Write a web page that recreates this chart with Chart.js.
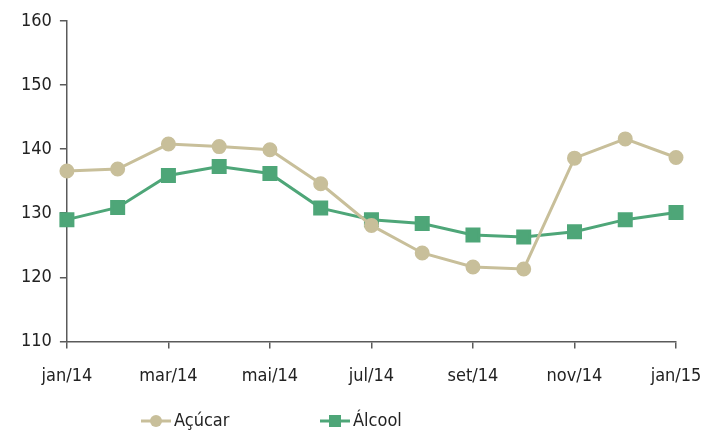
<!DOCTYPE html>
<html>
<head>
<meta charset="utf-8">
<script src="https://cdn.jsdelivr.net/npm/chart.js@4/dist/chart.umd.min.js"></script>
<style>
  html, body { margin: 0; padding: 0; background: #fff; }
  #wrap { width: 702px; height: 434px; }
</style>
</head>
<body>
<div id="wrap"><canvas id="myChart" width="702" height="434"></canvas></div>
<script>
const months = ['jan/14', 'fev/14', 'mar/14', 'abr/14', 'mai/14', 'jun/14', 'jul/14',
  'ago/14', 'set/14', 'out/14', 'nov/14', 'dez/14', 'jan/15'];
const acucar = [136.6, 136.9, 140.8, 140.4, 139.9, 134.6, 128.1, 123.8, 121.6, 121.3, 138.6, 141.6, 138.7];
const alcool = [129.0, 130.9, 135.9, 137.3, 136.2, 130.8, 129.0, 128.4, 126.6, 126.3, 127.1, 129.0, 130.1];
const yTicks = [110, 120, 130, 140, 150, 160];

const fontFam = "'DejaVu Sans Condensed', 'Liberation Sans Narrow', sans-serif";
const tan = '#c8bf9a';
const green = '#4ea678';
const axisColor = '#5a5a5a';

// legend drawn by hand so the spacing matches
const legendPlugin = {
  id: 'myLegend',
  afterDraw(chart) {
    const ctx = chart.ctx;
    const items = [
      { label: 'Açúcar', color: tan, style: 'circle', x: 141 },
      { label: 'Álcool', color: green, style: 'rect', x: 320 },
    ];
    const y = 421;
    ctx.save();
    items.forEach(it => {
      ctx.strokeStyle = it.color;
      ctx.lineWidth = 3;
      ctx.beginPath();
      ctx.moveTo(it.x, y);
      ctx.lineTo(it.x + 30, y);
      ctx.stroke();
      ctx.fillStyle = it.color;
      if (it.style === 'circle') {
        ctx.beginPath();
        ctx.arc(it.x + 15, y, 6, 0, Math.PI * 2);
        ctx.fill();
      } else {
        ctx.fillRect(it.x + 9, y - 6, 12, 12);
      }
      ctx.fillStyle = '#222';
      ctx.font = '18px ' + fontFam;
      ctx.textBaseline = 'middle';
      ctx.fillText(it.label, it.x + 33, y);
    });
    ctx.restore();
  }
};

const ctx = document.getElementById('myChart');

new Chart(ctx, {
  type: 'line',
  data: {
    labels: months,
    datasets: [
      {
        label: 'Açúcar',
        data: acucar,
        borderColor: tan,
        backgroundColor: tan,
        borderWidth: 3,
        pointStyle: 'circle',
        pointRadius: 6,
        pointHoverRadius: 6,
        tension: 0,
      },
      {
        label: 'Álcool',
        data: alcool,
        borderColor: green,
        backgroundColor: green,
        borderWidth: 3,
        pointStyle: 'rect',
        pointRadius: 8.5,
        pointHoverRadius: 8.5,
        tension: 0,
      },
    ],
  },
  options: {
    responsive: false,
    animation: false,
    layout: { padding: { left: 13, right: 0, top: 21, bottom: 30 } },
    plugins: {
      legend: { display: false },
      tooltip: { enabled: false },
    },
    scales: {
      x: {
        offset: false,
        afterFit: s => { s.paddingRight = 26; },
        border: { color: axisColor, width: 1.5 },
        grid: {
          drawOnChartArea: false,
          drawTicks: true,
          tickLength: 7,
          color: c => (c.index % 2 === 0 ? axisColor : 'rgba(0,0,0,0)'),
          lineWidth: 1.5,
        },
        ticks: {
          autoSkip: false,
          maxRotation: 0,
          color: '#222',
          font: { family: fontFam, size: 18 },
          padding: 17,
          callback: function (v, i) { return i % 2 === 0 ? months[i] : ''; },
        },
      },
      y: {
        min: yTicks[0],
        max: yTicks[yTicks.length - 1],
        afterBuildTicks: axis => { axis.ticks = yTicks.map(v => ({ value: v })); },
        border: { color: axisColor, width: 1.5 },
        grid: {
          drawOnChartArea: false,
          drawTicks: true,
          tickLength: 7,
          color: axisColor,
          lineWidth: 1.5,
        },
        ticks: {
          color: '#222',
          font: { family: fontFam, size: 18 },
          padding: 8,
        },
      },
    },
  },
  plugins: [legendPlugin],
});
</script>
</body>
</html>
